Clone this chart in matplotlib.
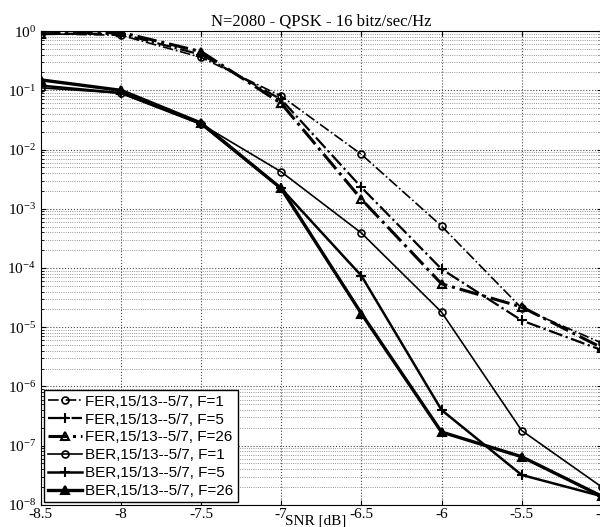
import matplotlib.pyplot as plt
import numpy as np
from matplotlib.ticker import LogLocator, NullFormatter

plt.rcParams['font.family'] = ['Liberation Serif', 'DejaVu Serif']
plt.rcParams['mathtext.fontset'] = 'stix'

snr = [-8.5, -8, -7.5, -7, -6.5, -6, -5.5, -5]

fer_f1 = [0.9, 0.85, 0.36, 0.08, 8.3e-3, 5.1e-4, 2.1e-5, 5.4e-6]
fer_f5 = [0.9, 0.9, 0.4, 0.07, 2.3e-3, 9.6e-5, 1.3e-5, 4.1e-6]
fer_f26 = [0.9, 0.95, 0.45, 0.06, 1.45e-3, 5.4e-5, 2.2e-5, 4.5e-6]
ber_f1 = [0.11, 0.09, 0.027, 4.2e-3, 3.9e-4, 1.8e-5, 1.8e-7, 2.0e-8]
ber_f5 = [0.12, 0.09, 0.027, 2.2e-3, 7.4e-5, 4.0e-7, 3.2e-8, 1.4e-8]
ber_f26 = [0.15, 0.1, 0.028, 2.2e-3, 1.7e-5, 1.7e-7, 6.5e-8, 1.4e-8]

labels = ["FER,15/13--5/7, F=1", "FER,15/13--5/7, F=5", "FER,15/13--5/7, F=26",
          "BER,15/13--5/7, F=1", "BER,15/13--5/7, F=5", "BER,15/13--5/7, F=26"]
xlabels = ["-8.5", "-8", "-7.5", "-7", "-6.5", "-6", "-5.5", "-5"]

fig = plt.figure(figsize=(6, 5.27), dpi=100)
ax = fig.add_axes([0.068, 0.042, 0.935, 0.899])

ax.semilogy(snr, fer_f1, color='k', ls='-.', lw=1.2, marker='o', ms=5, mfc='none', mew=1.2, label=labels[0])
ax.semilogy(snr, fer_f5, color='k', ls='-.', lw=1.6, marker='+', ms=7, mew=1.5, label=labels[1])
ax.semilogy(snr, fer_f26, color='k', ls='-.', lw=2.2, marker='^', ms=6, mfc='none', mew=1.5, label=labels[2])
ax.semilogy(snr, ber_f1, color='k', ls='-', lw=1.2, marker='o', ms=5, mfc='none', mew=1.2, label=labels[3])
ax.semilogy(snr, ber_f5, color='k', ls='-', lw=1.8, marker='+', ms=7, mew=1.5, label=labels[4])
ax.semilogy(snr, ber_f26, color='k', ls='-', lw=2.4, marker='^', ms=6, mfc='k', mew=1.5, label=labels[5])

ax.set_xlim(-8.5, -5)
ax.set_ylim(1e-8, 1)
ax.yaxis.set_major_locator(LogLocator(base=10, numticks=20))
ax.yaxis.set_minor_locator(LogLocator(base=10, subs=np.arange(2, 10), numticks=100))
ax.yaxis.set_minor_formatter(NullFormatter())
ax.set_xticks(snr)
ax.set_xticklabels(xlabels)

ax.grid(True, which='major', ls=':', color='0.3', lw=0.8)
ax.grid(True, which='minor', axis='y', ls=':', color='0.45', lw=0.6)
ax.tick_params(which='both', direction='in', top=True, right=True, labelsize=11)
ax.tick_params(axis='x', pad=2)

ax.set_title("N=2080 - QPSK - 16 bitz/sec/Hz", fontsize=12, pad=4)
ax.set_xlabel("SNR [dB]", fontsize=11)
ax.xaxis.set_label_coords(0.49, -0.02)

leg = ax.legend(loc='lower left', bbox_to_anchor=(0.005, 0.005), fancybox=False,
                edgecolor='k', framealpha=1, handlelength=2.2, handletextpad=0.2,
                borderpad=0.3, labelspacing=0.25, borderaxespad=0,
                prop={'family': 'Liberation Sans', 'size': 11})
leg.get_frame().set_linewidth(1.0)

fig.savefig("out.png", dpi=100)
